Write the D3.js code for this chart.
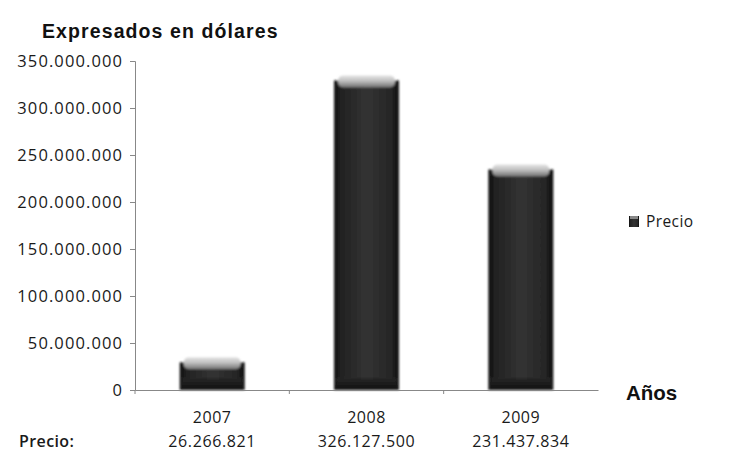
<!DOCTYPE html>
<html><head><meta charset="utf-8">
<script src="https://cdn.jsdelivr.net/npm/d3@7"></script>
<style>body{margin:0;background:#fff}svg{display:block}</style>
</head><body>
<script>
const years = ["2007","2008","2009"];
const precio = [26266821, 326127500, 231437834];
const valueLabels = ["26.266.821","326.127.500","231.437.834"];
const yTicks = [0,50000000,100000000,150000000,200000000,250000000,300000000,350000000];

const W=734,H=463;
const svg=d3.select("body").append("svg").attr("width",W).attr("height",H);
const defs=svg.append("defs");
const loc=d3.formatLocale({decimal:",",thousands:".",grouping:[3],currency:["$",""]});
const fmt=loc.format(",d");
const FONT="'Open Sans', sans-serif";

const x=d3.scaleBand().domain(years).range([135,598]).paddingInner(0.58).paddingOuter(0.29);
const y=d3.scaleLinear().domain([0,350000000]).range([390,61]);

// gradients
const gb=defs.append("linearGradient").attr("id","body").attr("x1",0).attr("x2",1).attr("y1",0).attr("y2",0);
[[0,"#0a0a0a"],[0.1,"#222"],[0.5,"#333"],[0.88,"#262626"],[1,"#0a0a0a"]].forEach(s=>gb.append("stop").attr("offset",s[0]).attr("stop-color",s[1]));
const gc=defs.append("linearGradient").attr("id","cap").attr("x1",0).attr("x2",0).attr("y1",0).attr("y2",1);
[[0,"#e4e4e4"],[0.45,"#c0c0c0"],[1,"#707070"]].forEach(s=>gc.append("stop").attr("offset",s[0]).attr("stop-color",s[1]));
const gs=defs.append("linearGradient").attr("id","bot").attr("x1",0).attr("x2",0).attr("y1",0).attr("y2",1);
[[0,"#262626"],[1,"#121212"]].forEach(s=>gs.append("stop").attr("offset",s[0]).attr("stop-color",s[1]));
defs.append("filter").attr("id","blur").append("feGaussianBlur").attr("stdDeviation",0.8);

// title
svg.append("text").attr("x",42).attr("y",38).attr("font-family","'Liberation Sans', Arial, sans-serif")
  .attr("font-weight","bold").attr("font-size",19.5).attr("letter-spacing",1.1).attr("fill","#111").text("Expresados en dólares");

// y axis
const yAxis=svg.append("g").attr("transform","translate(135,0)")
  .call(d3.axisLeft(y).tickValues(yTicks).tickFormat(fmt).tickSize(5).tickPadding(7));
yAxis.select(".domain").attr("stroke","#888");
yAxis.selectAll(".tick line").attr("stroke","#888");
yAxis.selectAll("text").attr("font-family",FONT).attr("font-size",16.5).attr("letter-spacing",1.1).attr("fill","#1a1a1a");

// bars
const bars=svg.append("g").attr("filter","url(#blur)");
years.forEach((yr,i)=>{
  const bx=x(yr), bw=x.bandwidth(), top=y(precio[i]), bot=y(0);
  bars.append("rect").attr("x",bx).attr("y",top-3).attr("width",bw).attr("height",bot-top+3).attr("fill","url(#body)");
  bars.append("rect").attr("x",bx+2).attr("y",bot-12).attr("width",bw-4).attr("height",12).attr("fill","url(#bot)");
  bars.append("rect").attr("x",bx+4).attr("y",top-8).attr("width",bw-8).attr("height",12).attr("rx",5).attr("fill","url(#cap)");
});

// x axis
const xAxis=svg.append("g").attr("transform","translate(0,390)")
  .call(d3.axisBottom(x).tickSize(0).tickFormat(""));
xAxis.select(".domain").attr("stroke","#888");
svg.append("g").selectAll("line").data(years).join("line")
  .attr("x1",d=>x(d)-x.step()*x.paddingInner()/2)
  .attr("x2",d=>x(d)-x.step()*x.paddingInner()/2)
  .attr("y1",390).attr("y2",394).attr("stroke","#888");

// category labels and values
svg.append("g").selectAll("text").data(years).join("text")
  .attr("x",d=>x(d)+x.bandwidth()/2).attr("y",423).attr("text-anchor","middle")
  .attr("font-family",FONT).attr("font-size",16).attr("letter-spacing",0.5).attr("fill","#1a1a1a").text(d=>d);
svg.append("g").selectAll("text").data(valueLabels).join("text")
  .attr("x",(d,i)=>x(years[i])+x.bandwidth()/2).attr("y",447).attr("text-anchor","middle")
  .attr("font-family",FONT).attr("font-size",16).attr("letter-spacing",0.6).attr("fill","#1a1a1a").text(d=>d);
svg.append("text").attr("x",19).attr("y",447).attr("font-family",FONT).attr("font-weight",600)
  .attr("font-size",16).attr("letter-spacing",0.4).attr("fill","#1a1a1a").text("Precio:");

// axis title
svg.append("text").attr("x",626).attr("y",400).attr("font-family","'Liberation Sans', Arial, sans-serif")
  .attr("font-weight","bold").attr("font-size",20.5).attr("fill","#111").text("Años");

// legend
svg.append("rect").attr("x",629).attr("y",216).attr("width",10).attr("height",11).attr("fill","url(#body)");
svg.append("rect").attr("x",630).attr("y",216).attr("width",8).attr("height",3).attr("fill","#888");
svg.append("text").attr("x",646).attr("y",227).attr("font-family",FONT).attr("font-size",15.5)
  .attr("letter-spacing",0.4).attr("fill","#1a1a1a").text("Precio");
</script>
</body></html>
